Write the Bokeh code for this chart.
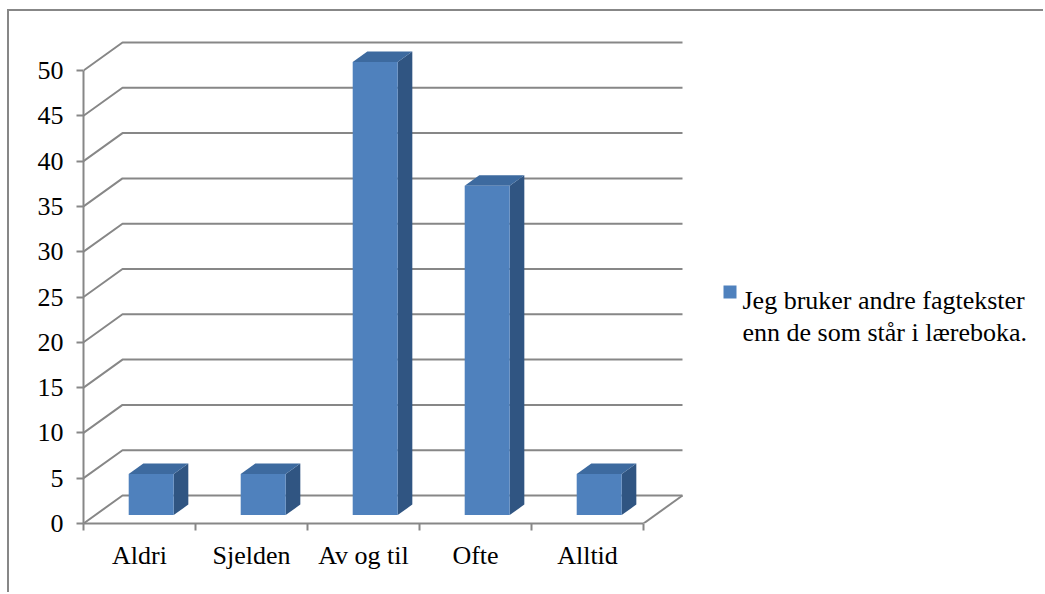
import numpy as np
from bokeh.plotting import figure
from bokeh.models import Range1d, FixedTicker
from bokeh.core.properties import value
from bokeh.embed import file_html
from bokeh.resources import INLINE

# ---- data ----
categories = ["Aldri", "Sjelden", "Av og til", "Ofte", "Alltid"]
values = [4.55, 4.55, 50.0, 36.36, 4.55]
y_ticks = [0, 5, 10, 15, 20, 25, 30, 35, 40, 45, 50]
legend_lines = ["Jeg bruker andre fagtekster", "enn de som står i læreboka."]

# ---- styling / layout constants ----
FONT = "Liberation Serif"
FS = "26px"
GRID = "#878787"
FRONT = "#4F81BD"
TOP = "#3D6A9F"
SIDE = "#305582"

OFF_X, OFF_Y = 9, 11          # page position of the canvas (margin + border)
W, H = 1045 - OFF_X, 594 - OFF_Y
ORIGIN_X, ORIGIN_Y = 83, 523  # page px of data origin
ML = ORIGIN_X - OFF_X
MB = H - (ORIGIN_Y - OFF_Y)
MT, MR = 15, 0
PX_CAT = 112.0   # px per category
PX_VAL = 9.06    # px per value unit
frame_w = W - ML - MR
frame_h = H - MT - MB

p = figure(width=W, height=H, output_backend="svg", toolbar_location=None,
           x_range=Range1d(0, frame_w / PX_CAT), y_range=Range1d(0, frame_h / PX_VAL),
           min_border_left=ML, min_border_right=MR, min_border_top=MT,
           min_border_bottom=MB, title=None)
p.outline_line_color = None
p.grid.visible = False
p.background_fill_color = "white"
p.border_fill_color = "white"
p.styles = {"margin-left": "7px", "margin-top": "9px",
            "border-top": f"2px solid {GRID}", "border-left": f"2px solid {GRID}"}

n = len(categories)
DX = 39 / PX_CAT
DY = 28 / PX_VAL

# back wall gridlines (with left-wall diagonal)
gx = [[0, DX, n + DX] for v in y_ticks]
gy = [[v, v + DY, v + DY] for v in y_ticks]
p.multi_line(gx, gy, line_color=GRID, line_width=2)
# floor right edge
p.line([n, n + DX], [0, DY], line_color=GRID, line_width=2)

# 3D bars
idx = np.arange(n)
vals = np.array(values)
bw = 45 / PX_CAT
s0, bd = 0.30, 0.375
L = idx + 0.5 - bw / 2 + s0 * DX
R = L + bw
B = s0 * DY
T = B + vals
ox, oy = bd * DX, bd * DY

p.patches([[r, r + ox, r + ox, r] for r in R],
          [[B, B + oy, t + oy, t] for t in T],
          fill_color=SIDE, line_color=None)
p.patches([[l, r, r + ox, l + ox] for l, r in zip(L, R)],
          [[t, t, t + oy, t + oy] for t in T],
          fill_color=TOP, line_color=None)
p.quad(left=L, right=R, bottom=B, top=T, fill_color=FRONT, line_color=None)

# y axis
ya = p.yaxis[0]
ya.ticker = FixedTicker(ticks=y_ticks)
ya.bounds = (0, y_ticks[-1])
ya.axis_line_color = GRID
ya.axis_line_width = 2
ya.major_tick_out = 7
ya.major_tick_in = 0
ya.major_tick_line_color = GRID
ya.major_tick_line_width = 2
ya.minor_tick_line_color = None
ya.major_label_text_font = FONT
ya.major_label_text_font_size = FS
ya.major_label_text_color = "black"
ya.major_label_standoff = 13

# x axis
xa = p.xaxis[0]
centers = [float(i) + 0.5 for i in idx]
xa.ticker = FixedTicker(ticks=centers, minor_ticks=list(range(n + 1)))
xa.major_label_overrides = {c: lab for c, lab in zip(centers, categories)}
xa.bounds = (0, n)
xa.axis_line_color = GRID
xa.axis_line_width = 2
xa.major_tick_line_color = None
xa.major_tick_out = 7
xa.major_tick_in = 0
xa.minor_tick_out = 7
xa.minor_tick_in = 0
xa.minor_tick_line_color = GRID
xa.minor_tick_line_width = 2
xa.major_label_text_font = FONT
xa.major_label_text_font_size = FS
xa.major_label_text_color = "black"
xa.major_label_standoff = 10

# legend (manual)
def dx_(px): return (px - ORIGIN_X) / PX_CAT
def dy_(py): return (ORIGIN_Y - py) / PX_VAL

p.scatter([dx_(729.5)], [dy_(291.5)], marker="square", size=13,
          fill_color=FRONT, line_color=None)
p.text([dx_(742)] * 2, [dy_(300), dy_(332)], text=legend_lines,
       text_font=value(FONT), text_font_size=FS, text_color="black",
       text_baseline="alphabetic", text_align="left")

open("out.html", "w").write(file_html(p, INLINE))
